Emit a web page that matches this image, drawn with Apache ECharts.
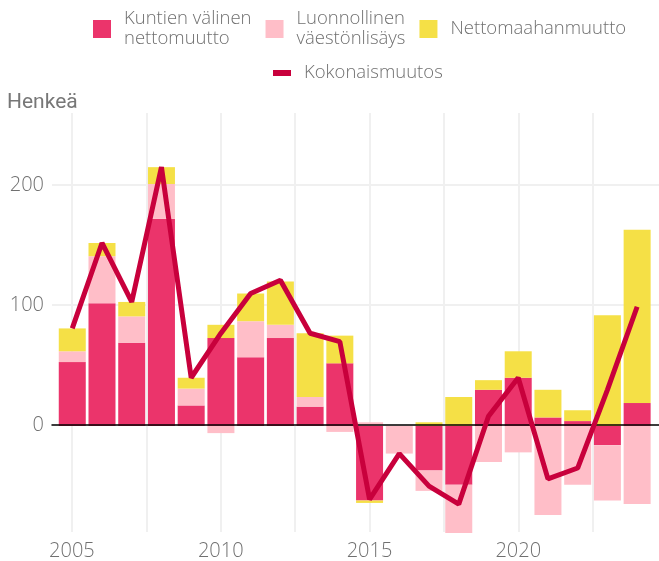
<!DOCTYPE html>
<html>
<head>
<meta charset="utf-8">
<script src="https://cdn.jsdelivr.net/npm/echarts@6/dist/echarts.min.js"></script>
<style>
  html, body { margin: 0; padding: 0; background: #fff; }
  #chart { width: 659px; height: 561px; }
</style>
</head>
<body>
<div id="chart"></div>
<script>
// vuodet ja komponentit (henkeä)
const years = ['2005', '2006', '2007', '2008', '2009', '2010', '2011', '2012', '2013', '2014',
               '2015', '2016', '2017', '2018', '2019', '2020', '2021', '2022', '2023', '2024'];
const kunta = [53, 102, 69, 172, 17, 73, 57, 73, 16, 52, -62, 0, -37, -49, 30, 40, 7, 4, -16, 19];
const luonnollinen = [9, 39, 22, 29, 14, -6, 30, 11, 8, -5, 3, -23, -17, -40, -30, -22, -74, -49, -46, -65];
const maahanmuutto = [19, 11, 12, 14, 9, 11, 23, 36, 53, 23, -2, 0, 3, 24, 8, 22, 23, 9, 92, 144];
const kokonais = [81, 152, 103, 215, 40, 77, 110, 121, 77, 70, -61, -23, -50, -65, 8, 40, -44, -35, 30, 99];

const xGridTicks = [2005, 2007.5, 2010, 2012.5, 2015, 2017.5, 2020, 2022.5];
const xLabels = [2005, 2010, 2015, 2020];
const yLabels = [0, 100, 200];

const names = {
  kunta: 'Kuntien välinen nettomuutto',
  luonn: 'Luonnollinen väestönlisäys',
  netto: 'Nettomaahanmuutto',
  koko: 'Kokonaismuutos'
};
const legendText = {
  'Kuntien välinen nettomuutto': 'Kuntien välinen\nnettomuutto',
  'Luonnollinen väestönlisäys': 'Luonnollinen\nväestönlisäys',
  'Nettomaahanmuutto': 'Nettomaahanmuutto',
  'Kokonaismuutos': 'Kokonaismuutos'
};

const font = 'Open Sans';
const grey = '#707070';
const yMin = -89, yMax = 260;
const xMin = 2004.33, xMax = 2024.73;

const chart = echarts.init(document.getElementById('chart'));
chart.setOption({
  animation: false,
  title: {
    text: 'Henkeä',
    left: 2,
    top: 87,
    textStyle: { fontFamily: 'Roboto', fontSize: 21, fontWeight: 'normal', color: '#777' }
  },
  legend: [
    {
      data: [names.kunta, names.luonn, names.netto],
      left: 88,
      top: 4,
      itemWidth: 18,
      itemHeight: 18,
      itemGap: 14,
      icon: 'rect',
      formatter: n => legendText[n],
      textStyle: { fontFamily: font, fontWeight: 300, fontSize: 18.5, lineHeight: 20, color: grey, padding: [0, 0, 0, 8] }
    },
    {
      data: [names.koko],
      left: 268,
      top: 58,
      itemWidth: 18,
      itemHeight: 6,
      icon: 'rect',
      textStyle: { fontFamily: font, fontWeight: 300, fontSize: 18.5, lineHeight: 20, color: grey, padding: [0, 0, 0, 8] }
    }
  ],
  // grid 0: akselit ja ruudukko, grid 1: pylväät ja viiva
  grid: [
    { left: 52, right: 0, top: 113, bottom: 28 },
    { left: 57.4, width: 594.6, top: 113, bottom: 28 }
  ],
  xAxis: [
    {
      type: 'value', gridIndex: 0, min: xMin, max: xMax, position: 'bottom',
      axisLine: { show: false, onZero: false },
      axisTick: { show: false, customValues: xGridTicks },
      axisLabel: {
        customValues: xLabels,
        formatter: v => String(v),
        margin: 9,
        fontFamily: font, fontWeight: 300, fontSize: 20, color: grey
      },
      splitLine: { show: true, lineStyle: { color: '#f0f0f0', width: 2 } }
    },
    {
      type: 'value', gridIndex: 0, min: xMin, max: xMax, z: 10, position: 'bottom',
      axisLine: { show: true, onZero: true, onZeroAxisIndex: 0, lineStyle: { color: '#000', width: 1.5 } },
      axisTick: { show: false },
      axisLabel: { show: false },
      splitLine: { show: false }
    },
    {
      type: 'category', gridIndex: 1, data: years, show: false
    }
  ],
  yAxis: [
    {
      type: 'value', gridIndex: 0, min: yMin, max: yMax,
      axisLine: { show: false },
      axisTick: { show: false, customValues: yLabels },
      axisLabel: {
        customValues: yLabels,
        margin: 8,
        fontFamily: font, fontWeight: 300, fontSize: 20, color: grey
      },
      splitLine: { show: true, lineStyle: { color: '#f0f0f0', width: 2 } }
    },
    {
      type: 'value', gridIndex: 1, min: yMin, max: yMax, show: false,
      splitLine: { show: false }
    }
  ],
  series: [
    {
      name: names.kunta, type: 'bar', stack: 'muutos', barWidth: 27,
      xAxisIndex: 2, yAxisIndex: 1,
      itemStyle: { color: '#eb346b' },
      data: kunta
    },
    {
      name: names.luonn, type: 'bar', stack: 'muutos', barWidth: 27,
      xAxisIndex: 2, yAxisIndex: 1,
      itemStyle: { color: '#ffbec8' },
      data: luonnollinen
    },
    {
      name: names.netto, type: 'bar', stack: 'muutos', barWidth: 27,
      xAxisIndex: 2, yAxisIndex: 1,
      itemStyle: { color: '#f5e046' },
      data: maahanmuutto
    },
    {
      name: names.koko, type: 'line', showSymbol: false, symbol: 'none',
      xAxisIndex: 2, yAxisIndex: 1,
      lineStyle: { color: '#c8003c', width: 5 },
      itemStyle: { color: '#c8003c' },
      z: 20,
      data: kokonais
    }
  ]
});
</script>
</body>
</html>
